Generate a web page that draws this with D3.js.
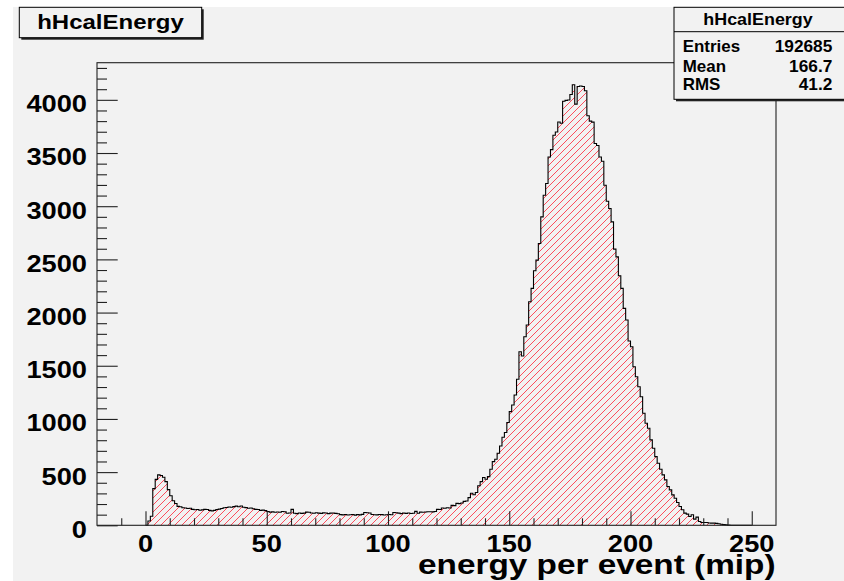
<!DOCTYPE html>
<html>
<head>
<meta charset="utf-8">
<script src="https://cdn.jsdelivr.net/npm/d3@7"></script>
<style>
  html, body { margin: 0; padding: 0; background: #ffffff; }
  svg { display: block; }
  text { font-family: "Liberation Sans", Arial, Helvetica, sans-serif; font-weight: bold; fill: #000; }
</style>
</head>
<body>
<svg id="canvas" width="844" height="581"></svg>
<script>
// ---- histogram definition ----
const histName = "hHcalEnergy";
const xTitle = "energy per event (mip)";
const binStart = 0;      // lower edge of the first bin (mip)
const binWidth = 1;      // mip per bin

// bin contents, one entry per 1-mip bin starting at 0
const counts = [
  0, 40, 85, 345, 432, 474, 468, 452, 411, 335,          // 0-9
  278, 231, 205, 178, 175, 165, 162, 158, 160, 150,      // 10-19
  146, 148, 142, 145, 150, 148, 140, 136, 140, 148,      // 20-29
  152, 158, 165, 168, 172, 170, 176, 180, 174, 182,      // 30-39
  170, 166, 160, 162, 155, 150, 148, 140, 143, 138,      // 40-49
  130, 124, 126, 122, 125, 123, 130, 128, 113, 115,      // 50-59
  150, 113, 110, 116, 112, 114, 124, 122, 116, 113,      // 60-69
  118, 114, 112, 117, 115, 110, 114, 116, 112, 108,      // 70-79
  100, 98, 102, 97, 99, 101, 96, 100, 98, 103,           // 80-89
  120, 118, 116, 101, 99, 98, 102, 100, 97, 99,          // 90-99
  101, 99, 120, 118, 114, 110, 115, 112, 116, 111,       // 100-109
  113, 131, 113, 124, 122, 125, 127, 128, 126, 130,      // 110-119
  150, 148, 162, 160, 165, 163, 187, 185, 206, 204,      // 120-129
  210, 225, 228, 260, 302, 287, 308, 372, 411, 449,      // 130-139
  433, 458, 527, 599, 621, 678, 746, 828, 872, 966,      // 140-149
  1069, 1131, 1225, 1373, 1632, 1592, 1773, 1883, 2102, 2227, // 150-159
  2393, 2493, 2650, 2900, 3103, 3213, 3463, 3532, 3667, 3698, // 160-169
  3792, 3780, 3986, 3995, 3998, 4050, 4142, 3960, 4125, 4130, // 170-179
  4125, 4085, 3850, 3800, 3790, 3590, 3570, 3463, 3423, 3197, // 180-189
  3047, 2978, 2853, 2596, 2524, 2346, 2227, 2039, 1930, 1732, // 190-199
  1679, 1491, 1397, 1303, 1209, 1053, 959, 912, 803, 725,     // 200-209
  646, 584, 527, 474, 427, 365, 333, 286, 255, 214,           // 210-219
  177, 146, 114, 105, 83, 99, 58, 77, 36, 26,                 // 220-229
  26, 26, 22, 20, 20, 18, 14, 10, 6, 4,                       // 230-239
  2, 0, 0, 0, 0, 0, 0, 0, 0, 0                                // 240-249
];

const xRange = [-20, 260];
const xMajorTicks = [0, 50, 100, 150, 200, 250];
const xMinorStep = 10;
const yMajorTicks = [0, 500, 1000, 1500, 2000, 2500, 3000, 3500, 4000];
const yMinorStep = 100;

const statLabels = ["Entries", "Mean", "RMS"];
const statValues = ["192685", "166.7", "41.2"];

// ---- layout ----
const W = 844, H = 581;
const frame = { left: 97, right: 776, top: 62.7, bottom: 525.3 };
const bg = "#f2f2f2";

const svg = d3.select("#canvas");

// canvas background
svg.append("rect").attr("x", 0).attr("y", 0).attr("width", W).attr("height", H).attr("fill", "#ffffff");
svg.append("rect").attr("x", 13).attr("y", 7).attr("width", W - 13).attr("height", H - 7).attr("fill", bg);

// horizontally widened bold text, as the ROOT renderer draws it
function label(g, str, x, y, size, anchor, sx) {
  return g.append("text")
    .attr("transform", `translate(${x},${y}) scale(${sx},1)`)
    .attr("font-size", size)
    .attr("text-anchor", anchor)
    .text(str);
}

const yMax = 1.05 * d3.max(counts);
const x = d3.scaleLinear().domain(xRange).range([frame.left, frame.right]);
const y = d3.scaleLinear().domain([0, yMax]).range([frame.bottom, frame.top]);

// hatch pattern (fill style "/")
const defs = svg.append("defs");
const hs = 7;
const pat = defs.append("pattern")
  .attr("id", "hatch")
  .attr("patternUnits", "userSpaceOnUse")
  .attr("width", hs).attr("height", hs);
pat.append("path")
  .attr("d", `M${-1},${1} L${1},${-1} M0,${hs} L${hs},0 M${hs - 1},${hs + 1} L${hs + 1},${hs - 1}`)
  .attr("stroke", "#ff2438")
  .attr("stroke-width", 1)
  .attr("stroke-opacity", 0.8);

// step outline points
const pts = [[binStart, 0]];
counts.forEach((c, i) => {
  const lo = binStart + i * binWidth, hi = lo + binWidth;
  pts.push([lo, c], [hi, c]);
});
pts.push([binStart + counts.length * binWidth, 0]);

const line = d3.line().x(d => x(d[0])).y(d => y(d[1]));

const plot = svg.append("g");
plot.append("path")
  .attr("d", line(pts) + "Z")
  .attr("fill", "url(#hatch)")
  .attr("stroke", "none");
plot.append("path")
  .attr("d", line(pts))
  .attr("fill", "none")
  .attr("stroke", "#000")
  .attr("stroke-width", 1.1);

// frame
svg.append("rect")
  .attr("x", frame.left).attr("y", frame.top)
  .attr("width", frame.right - frame.left).attr("height", frame.bottom - frame.top)
  .attr("fill", "none").attr("stroke", "#222").attr("stroke-width", 1.1);

// y axis ticks (inside frame)
const yMinor = d3.range(0, yMax, yMinorStep).filter(v => !yMajorTicks.includes(v));
const yAxisMinor = d3.axisRight(y).tickValues(yMinor).tickSize(10).tickFormat("");
const yAxisMajor = d3.axisRight(y).tickValues(yMajorTicks).tickSize(20.7).tickFormat("");
[yAxisMinor, yAxisMajor].forEach(ax => {
  const g = svg.append("g").attr("transform", `translate(${frame.left},0)`).call(ax);
  g.select(".domain").remove();
  g.selectAll("line").attr("stroke", "#222").attr("stroke-width", 1.1);
});
const yLabels = svg.append("g");
yMajorTicks.forEach(v => label(yLabels, String(v), 87, y(v) + 12.4, 23.3, "end", 1.17));

// x axis ticks (inside frame)
const xMinor = d3.range(xRange[0] + xMinorStep, xRange[1], xMinorStep).filter(v => !xMajorTicks.includes(v));
const xAxisMinor = d3.axisTop(x).tickValues(xMinor).tickSize(7).tickFormat("");
const xAxisMajor = d3.axisTop(x).tickValues(xMajorTicks).tickSize(14).tickFormat("");
[xAxisMinor, xAxisMajor].forEach(ax => {
  const g = svg.append("g").attr("transform", `translate(0,${frame.bottom})`).call(ax);
  g.select(".domain").remove();
  g.selectAll("line").attr("stroke", "#222").attr("stroke-width", 1.1);
});
const xLabels = svg.append("g");
xMajorTicks.forEach(v => label(xLabels, String(v), x(v), 551.7, 23.3, "middle", 1.17));

// x axis title
label(svg, xTitle, frame.right - 0.5, 573.5, 28.5, "end", 1.17);

// histogram title box with shadow
const tb = { x: 19.3, y: 7.3, w: 182.4, h: 30.4 };
svg.append("rect").attr("x", tb.x + 2).attr("y", tb.y + 2).attr("width", tb.w).attr("height", tb.h).attr("fill", "#222");
svg.append("rect").attr("x", tb.x).attr("y", tb.y).attr("width", tb.w).attr("height", tb.h)
  .attr("fill", bg).attr("stroke", "#000").attr("stroke-width", 1);
label(svg, histName, tb.x + tb.w / 2, 29, 20, "middle", 1.2);

// statistics box with shadow
const sb = { x: 674, y: 7.3, w: 180, h: 92 };
svg.append("rect").attr("x", sb.x + 2).attr("y", sb.y + 2).attr("width", sb.w).attr("height", sb.h).attr("fill", "#222");
svg.append("rect").attr("x", sb.x).attr("y", sb.y).attr("width", sb.w).attr("height", sb.h)
  .attr("fill", bg).attr("stroke", "#000").attr("stroke-width", 1);
svg.append("line").attr("x1", sb.x).attr("x2", sb.x + sb.w).attr("y1", 31.7).attr("y2", 31.7)
  .attr("stroke", "#000").attr("stroke-width", 1);
label(svg, histName, 758, 24.5, 16, "middle", 1.12);
const rowBase = [51.7, 71.7, 90];
statLabels.forEach((s, i) => {
  label(svg, s, 682.7, rowBase[i], 16.3, "start", 1.04);
  label(svg, statValues[i], 832.3, rowBase[i], 16.3, "end", 1.06);
});
</script>
</body>
</html>
